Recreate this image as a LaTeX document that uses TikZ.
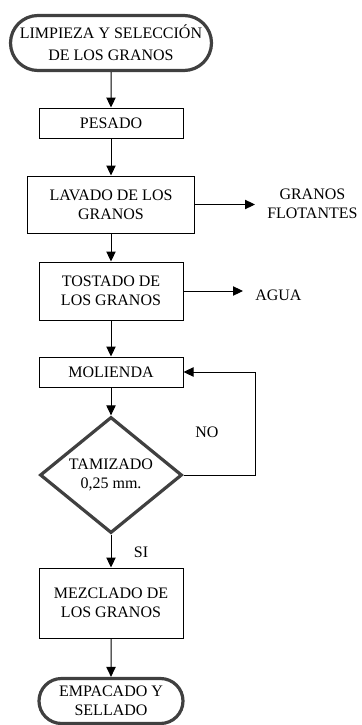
\documentclass[tikz,border=0pt]{standalone}
\usepackage{fontspec}
\setmainfont{Liberation Serif}
\usetikzlibrary{arrows.meta,shapes.geometric,shapes.misc}
\definecolor{borde}{HTML}{404040}
\begin{document}
\begin{tikzpicture}[
      x=0.75pt, y=-0.75pt,
      every node/.style={font=\fontsize{12}{14.25}\selectfont, align=center, inner sep=0pt},
      proceso/.style={rectangle, draw, line width=0.75pt, minimum width=108pt},
      terminal/.style={rounded rectangle, draw=borde, line width=2.4pt},
      decision/.style={diamond, draw=borde, line width=2.4pt, minimum width=106.5pt, minimum height=84pt},
      flecha/.style={draw, line width=0.75pt, -{Triangle[length=7.5pt,width=7pt]}},
      nota/.style={draw=none}
      ]
      \useasboundingbox (0,0) rectangle (361,725);
      % etapas del proceso
      \node[terminal, minimum width=150.75pt, minimum height=41.25pt,
            font=\fontsize{12}{16.5}\selectfont] (limpieza) at (111,43) {LIMPIEZA Y SELECCIÓN\\DE LOS GRANOS};
      \node[proceso, minimum height=22.5pt] (pesado) at (111,123) {PESADO};
      \node[proceso, minimum width=125.25pt, minimum height=42.75pt] (lavado) at (111,204.5) {LAVADO DE LOS\\GRANOS};
      \node[proceso, minimum height=43.5pt] (tostado) at (111,291) {TOSTADO DE\\LOS GRANOS};
      \node[proceso, minimum height=22.5pt] (molienda) at (111,372) {MOLIENDA};
      \node[decision] (tamizado) at (111,475) {TAMIZADO\\0,25 mm.};
      \node[proceso, minimum height=52.5pt] (mezclado) at (111,603) {MEZCLADO DE\\LOS GRANOS};
      \node[terminal, minimum width=108pt, minimum height=33.75pt] (empacado) at (111,701) {EMPACADO Y\\SELLADO};
      % salidas laterales
      \node[nota, anchor=west] (flotantes) at (267,204) {GRANOS\\FLOTANTES};
      \node[nota, anchor=west] (agua) at (255,295.7) {AGUA};
      \node[nota] (no) at (207,432) {NO};
      \node[nota] (si) at (141,552) {SI};
      \coordinate (vuelta) at (255,475);

      \draw[flecha] (limpieza) -- (pesado);
      \draw[flecha] (pesado) -- (lavado);
      \draw[flecha] (lavado) -- (tostado);
      \draw[flecha] (tostado) -- (molienda);
      \draw[flecha] (molienda) -- (tamizado);
      \draw[flecha] (tamizado) -- (mezclado);
      \draw[flecha] (mezclado) -- (empacado);
      \draw[flecha, shorten >=12pt*0.75] (lavado.east) -- (lavado.east -| flotantes.west);
      \draw[flecha, shorten >=9pt] (tostado.east) -- (tostado.east -| agua.west);
      \draw[flecha] (tamizado.east) -- (vuelta) |- (molienda.east);
    \end{tikzpicture}
\end{document}
